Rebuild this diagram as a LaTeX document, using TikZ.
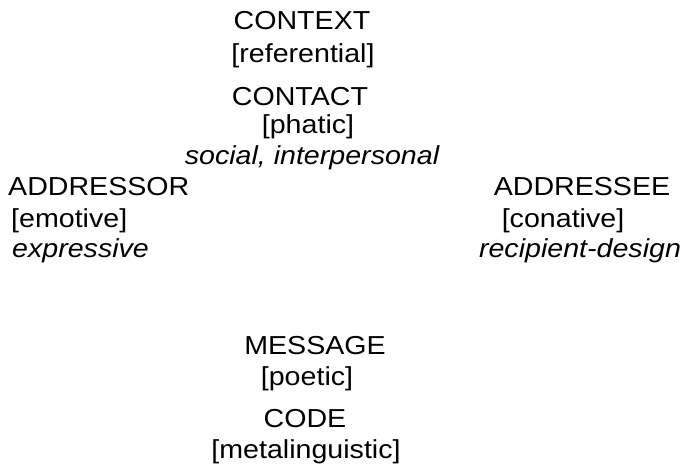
\documentclass[tikz,border=0pt]{standalone}
\usepackage{fontspec}
\setmainfont{Liberation Sans}
\newcommand\widetext[1]{\scalebox{1.1}[1]{#1}}
\begin{document}
\begin{tikzpicture}[x=1pt,y=-1pt,
  lbl/.style={inner sep=0pt, anchor=base, font=\fontsize{26}{30}\selectfont},
  it/.style={lbl, font=\fontsize{26}{30}\selectfont\itshape}]
\useasboundingbox (0,0) rectangle (694,470);
\node[lbl] (context) at (302,30) {\widetext{CONTEXT}};
\node[lbl] (ref) at (303,63) {\widetext{[referential]}};
\node[lbl] (contact) at (300,106) {\widetext{CONTACT}};
\node[lbl] (phatic) at (308,134) {\widetext{[phatic]}};
\node[it] (social) at (312,165) {\widetext{social, interpersonal}};
\node[lbl, anchor=base west] (addressor) at (8,196) {\widetext{ADDRESSOR}};
\node[lbl, anchor=base west] (emotive) at (11,228) {\widetext{[emotive]}};
\node[it, anchor=base west] (expressive) at (12,258) {\widetext{expressive}};
\node[lbl] (addressee) at (582,196) {\widetext{ADDRESSEE}};
\node[lbl] (conative) at (563,228) {\widetext{[conative]}};
\node[it] (recipient) at (580,258) {\widetext{recipient-design}};
\node[lbl] (message) at (315,355) {\widetext{MESSAGE}};
\node[lbl] (poetic) at (307,386) {\widetext{[poetic]}};
\node[lbl] (code) at (305,428) {\widetext{CODE}};
\node[lbl] (meta) at (306,458) {\widetext{[metalinguistic]}};
\end{tikzpicture}
\end{document}
